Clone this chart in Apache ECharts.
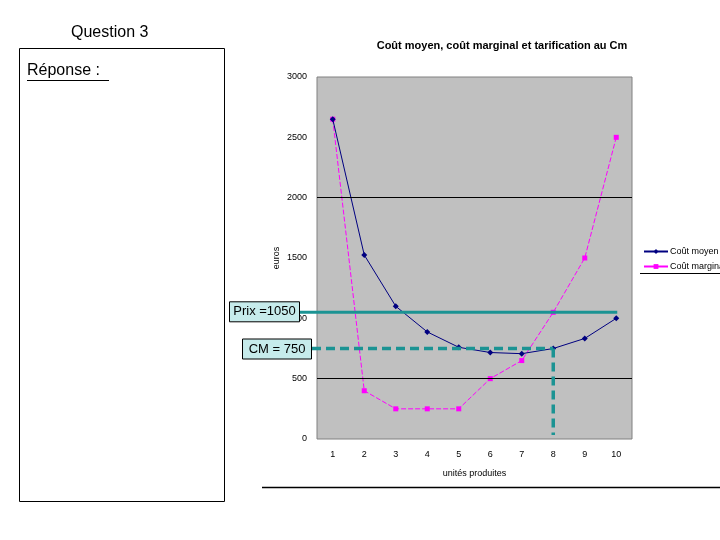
<!DOCTYPE html>
<html><head><meta charset="utf-8">
<script src="https://cdn.jsdelivr.net/npm/echarts@6/dist/echarts.min.js"></script>
<style>html,body{margin:0;padding:0;background:#fff;}#c{width:720px;height:540px;}</style>
</head><body><div id="c"></div>
<script>
var categories = ['1','2','3','4','5','6','7','8','9','10'];
var coutMoyen = [2650, 1525, 1100, 887.5, 760, 716.7, 707.1, 750, 833.3, 1000];
var coutMarginal = [2650, 400, 250, 250, 250, 500, 650, 1050, 1500, 2500];
var yTicks = [0, 500, 1000, 1500, 2000, 2500, 3000];
var gridLineValues = [500, 2000];
var prix = 1050;
var cmValue = 750;
var cmCategory = '8';
var lastCategory = '10';

var FONT = 'Liberation Sans, Arial, sans-serif';
var chart = echarts.init(document.getElementById('c'), null, {renderer: 'canvas'});
chart.setOption({
  animation: false,
  backgroundColor: '#fff',
  title: {
    text: 'Coût moyen, coût marginal et tarification au Cm',
    left: 497, textAlign: 'center', top: 35,
    textStyle: {fontFamily: FONT, fontSize: 11, fontWeight: 'bold', color: '#000'}
  },
  legend: {
    orient: 'vertical', left: 638, top: 242, itemGap: 6,
    itemWidth: 24, itemHeight: 6,
    textStyle: {fontFamily: FONT, fontSize: 9, color: '#000', padding: [0, 0, 0, -3]},
    data: [
      {name: 'Coût moyen', itemStyle: {color: '#000080'}, lineStyle: {type: 'solid'}},
      {name: 'Coût marginal', itemStyle: {color: '#ff00ff'}, lineStyle: {type: 'solid'}}
    ]
  },
  grid: {left: 317, top: 77, width: 315, height: 362, containLabel: false,
    show: true, backgroundColor: '#c0c0c0', borderColor: '#808080', borderWidth: 1},
  xAxis: {
    type: 'category', data: categories, boundaryGap: true,
    name: 'unités produites', nameLocation: 'middle', nameGap: 30,
    nameTextStyle: {fontFamily: FONT, fontSize: 9, color: '#000'},
    axisLine: {show: false}, axisTick: {show: false},
    axisLabel: {fontFamily: FONT, fontSize: 9, color: '#000', margin: 11},
    splitLine: {show: false}
  },
  yAxis: {
    type: 'value', min: yTicks[0], max: yTicks[yTicks.length - 1], interval: 500,
    name: 'euros', nameLocation: 'middle', nameGap: 36, nameRotate: 90,
    nameTextStyle: {fontFamily: FONT, fontSize: 9, color: '#000'},
    axisLine: {show: false}, axisTick: {show: false},
    axisLabel: {fontFamily: FONT, fontSize: 9, color: '#000', margin: 10,
      formatter: function (v) { return String(v); }},
    splitLine: {show: false}
  },
  series: [
    {
      name: 'Coût moyen', type: 'line', data: coutMoyen,
      symbol: 'diamond', symbolSize: 6,
      lineStyle: {color: '#000080', width: 1},
      itemStyle: {color: '#000080'},
      markLine: {
        silent: true, symbol: 'none', label: {show: false},
        lineStyle: {color: '#000', width: 1, type: 'solid'},
        data: gridLineValues.map(function (v) { return {yAxis: v}; })
      },
      z: 3
    },
    {
      name: 'Coût marginal', type: 'line', data: coutMarginal,
      symbol: 'rect', symbolSize: 5,
      lineStyle: {color: '#ff00ff', width: 1, type: [5, 2]},
      itemStyle: {color: '#ff00ff'},
      z: 2
    }
  ]
});

var yP = chart.convertToPixel({yAxisIndex: 0}, prix);
var yC = chart.convertToPixel({yAxisIndex: 0}, cmValue);
var x8 = chart.convertToPixel({xAxisIndex: 0}, cmCategory);
var x10 = chart.convertToPixel({xAxisIndex: 0}, lastCategory);
var y0 = chart.convertToPixel({yAxisIndex: 0}, 0);
var teal = '#1b9393';

chart.setOption({
  graphic: [
    {type: 'text', left: 71, top: 25, style: {text: 'Question 3', font: '16px ' + FONT, fill: '#000'}},
    {type: 'rect', shape: {x: 19.5, y: 48.5, width: 205, height: 453}, style: {fill: 'none', stroke: '#000', lineWidth: 1}},
    {type: 'text', left: 27, top: 63, style: {text: 'Réponse :', font: '16px ' + FONT, fill: '#000'}},
    {type: 'line', shape: {x1: 27, y1: 80.5, x2: 109, y2: 80.5}, style: {stroke: '#000', lineWidth: 1}},
    {type: 'line', shape: {x1: 262, y1: 487.5, x2: 720, y2: 487.5}, style: {stroke: '#000', lineWidth: 1.5}},
    {type: 'line', shape: {x1: 640, y1: 273.5, x2: 720, y2: 273.5}, style: {stroke: '#000', lineWidth: 1}},
    {type: 'line', z: 10, shape: {x1: 300, y1: yP, x2: x10 + 1, y2: yP}, style: {stroke: teal, lineWidth: 3}},
    {type: 'line', z: 10, shape: {x1: 312, y1: yC, x2: x8, y2: yC}, style: {stroke: teal, lineWidth: 3.5, lineDash: [9, 5]}},
    {type: 'line', z: 10, shape: {x1: x8, y1: yC, x2: x8, y2: y0 - 4}, style: {stroke: teal, lineWidth: 3.5, lineDash: [9, 5]}},
    {type: 'rect', z: 11, shape: {x: 229.5, y: yP - 10.5, width: 70, height: 20}, style: {fill: '#c6ebeb', stroke: '#000', lineWidth: 1}},
    {type: 'text', z: 12, x: 264.5, y: yP - 0.5, style: {text: 'Prix =1050', font: '13px ' + FONT, fill: '#000', align: 'center', verticalAlign: 'middle'}},
    {type: 'rect', z: 11, shape: {x: 242.5, y: yC - 9.5, width: 69, height: 20}, style: {fill: '#c6ebeb', stroke: '#000', lineWidth: 1}},
    {type: 'text', z: 12, x: 277, y: yC + 0.5, style: {text: 'CM = 750', font: '13px ' + FONT, fill: '#000', align: 'center', verticalAlign: 'middle'}}
  ]
});
</script></body></html>
